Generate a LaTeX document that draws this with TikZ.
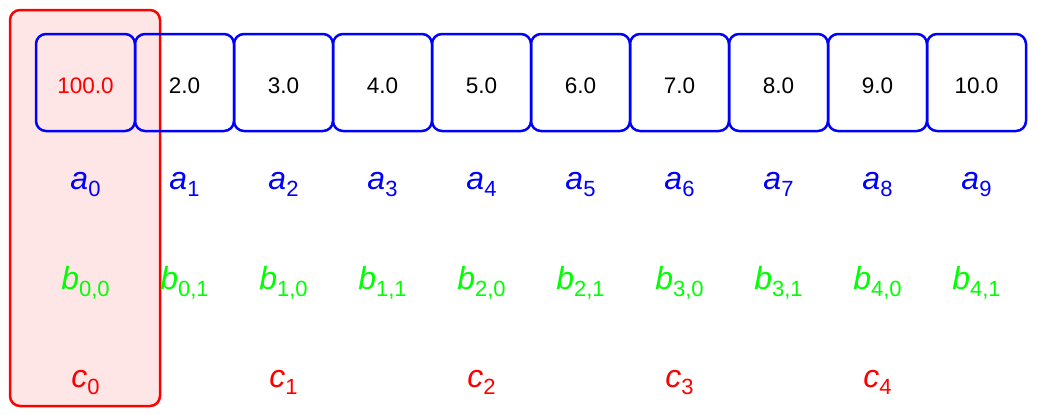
\documentclass[tikz,border=0pt]{standalone}
\usepackage{fontspec}
\setmainfont{Liberation Sans}
\definecolor{pblue}{RGB}{0,0,255}
\definecolor{pgreen}{RGB}{0,255,0}
\definecolor{pred}{RGB}{255,0,0}
\definecolor{pfill}{RGB}{255,230,230}
\newcommand\mylab[2]{\textit{#1}\raisebox{-0.22em}{\fontsize{22}{22}\selectfont #2}}
\begin{document}
\begin{tikzpicture}[x=1pt,y=-1pt,
  cell/.style={draw=pblue,line width=2.5pt,rounded corners=10pt,minimum width=99pt,minimum height=97pt,inner sep=0pt,font=\fontsize{22.5}{22.5}\selectfont,text height=21pt,text depth=0pt},
  lab/.style={anchor=base,inner sep=0pt,font=\fontsize{32}{32}\selectfont},
  hl/.style={draw=pred,fill=pfill,line width=2.5pt,rounded corners=10pt}]
\useasboundingbox (0,0) rectangle (1037,415);
\draw[hl] (10,10) rectangle (160,406);
\foreach \v [count=\i from 0] in {100.0,2.0,3.0,4.0,5.0,6.0,7.0,8.0,9.0,10.0}{
  \pgfmathsetmacro\cx{85.5+99*\i}
  \ifnum\i=0
    \node[cell,text=pred] (box\i) at (\cx,82.5) {\v};
  \else
    \node[cell] (box\i) at (\cx,82.5) {\v};
  \fi
  \node[lab,text=pblue] (a\i) at (\cx,189) {\mylab{a}{\i}};
}
\foreach \p/\q [count=\i from 0] in {0/0,0/1,1/0,1/1,2/0,2/1,3/0,3/1,4/0,4/1}{
  \pgfmathsetmacro\cx{85.5+99*\i}
  \node[lab,text=pgreen] (b\i) at (\cx,289) {\mylab{b}{\p,\q}};
}
\foreach \i in {0,...,4}{
  \pgfmathsetmacro\cx{85.5+198*\i}
  \node[lab,text=pred] (c\i) at (\cx,387) {\mylab{c}{\i}};
}
\end{tikzpicture}
\end{document}
